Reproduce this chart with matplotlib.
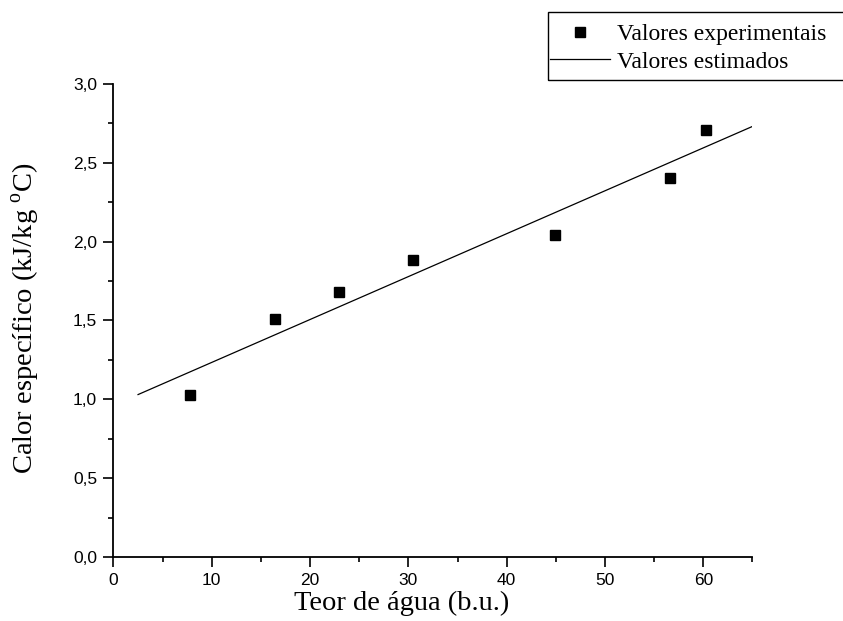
import matplotlib.pyplot as plt
from matplotlib.patches import Rectangle
from matplotlib.ticker import MultipleLocator, FuncFormatter

# measured points
teor_agua = [7.8, 16.4, 22.9, 30.5, 44.9, 56.6, 60.3]
calor_esp = [1.03, 1.51, 1.68, 1.88, 2.04, 2.40, 2.71]

# fitted line (end points as drawn)
fit_x = [2.5, 65.0]
fit_y = [1.03, 2.73]

SERIF = "Liberation Serif"
SANS = "Liberation Sans"

plt.rcParams["mathtext.fontset"] = "custom"
plt.rcParams["mathtext.rm"] = SERIF

fig = plt.figure(figsize=(8.43, 6.21), dpi=100)
ax = fig.add_axes([0.1346, 0.103, 0.758, 0.762])

exp_h, = ax.plot(teor_agua, calor_esp, "s", color="black", ms=7, lw=0,
                 label="Valores experimentais")
fit_h, = ax.plot(fit_x, fit_y, "-", color="black", lw=0.9,
                 label="Valores estimados")

ax.set_xlim(0, 65)
ax.set_ylim(0, 3.0)
ax.spines["top"].set_visible(False)
ax.spines["right"].set_visible(False)
for s in ("left", "bottom"):
    ax.spines[s].set_linewidth(1.3)

ax.xaxis.set_major_locator(MultipleLocator(10))
ax.xaxis.set_minor_locator(MultipleLocator(5))
ax.yaxis.set_major_locator(MultipleLocator(0.5))
ax.yaxis.set_minor_locator(MultipleLocator(0.25))
ax.yaxis.set_major_formatter(FuncFormatter(lambda v, p: f"{v:.1f}".replace(".", ",")))
ax.tick_params(which="major", direction="out", length=7.2, width=1.2,
               labelsize=12.5, pad=4.5)
ax.tick_params(which="minor", direction="out", length=3.6, width=1.2)
for lab in ax.get_xticklabels() + ax.get_yticklabels():
    lab.set_fontfamily(SANS)

ax.set_xlabel("Teor de água (b.u.)", fontsize=20.5, fontfamily=SERIF)
ax.set_ylabel("Calor específico (kJ/kg $^{\\mathrm{o}}$C)", fontsize=20.5,
              fontfamily=SERIF)
ax.xaxis.set_label_coords(0.4515, -0.072)
ax.yaxis.set_label_coords(-0.112, 0.505)

# legend box runs off the right edge of the figure
fig.patches.append(Rectangle((548 / 843, 1 - 80 / 621), 0.4, 68 / 621,
                             transform=fig.transFigure, fill=False,
                             edgecolor="black", lw=1.0))
leg = fig.legend(handles=[exp_h, fit_h], loc="upper left",
                 bbox_to_anchor=(545 / 843, 1 - 19 / 621),
                 frameon=False, prop={"family": SERIF, "size": 17},
                 handlelength=2.55, handletextpad=0.3, borderpad=0.2,
                 labelspacing=0.25, borderaxespad=0)

fig.savefig("out.png", dpi=100)
